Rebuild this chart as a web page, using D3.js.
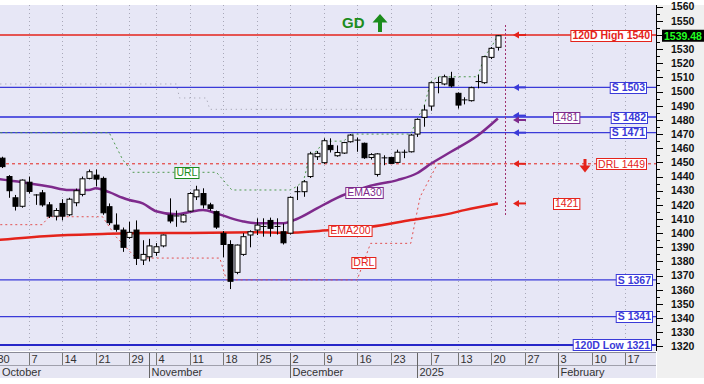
<!DOCTYPE html>
<html><head><meta charset="utf-8">
<script src="https://cdn.jsdelivr.net/npm/d3@7"></script>
<style>body{margin:0;background:#fff}svg{display:block;font-family:"Liberation Sans",Arial,sans-serif}</style>
</head><body><svg id="c" width="704" height="384"></svg>
<script>
// ---------- DATA ----------
const opens = [1453,1440,1425,1419,1436,1427,1428.5,1420,1412,1421,
 1413,1421.5,1427.4,1438.7,1441,1438.7,1418.7,1405.7,1402.2,1397,
 1402.2,1381,1383.3,1386.4,1391,1412.8,1412,1408,1415.6,1425.7,
 1428,1420,1415.2,1399.9,1392,1372.3,1385,1398.7,1402.2,1404.5,
 1409,1404.5,1401,1400,1429,1429.3,1440,1454,1449.8,1462,
 1454.7,1456.6,1464.6,1465.5,1463.5,1453.5,1441.5,1453,1453.5,1450,
 1457,1457.5,1470,1481.8,1489.8,1506.3,1505.4,1509.4,1498.8,1494,
 1493.6,1507,1506.3,1524.2,1531.3];
const highs = [1454,1441,1427,1438,1440,1427.5,1430.5,1422,1417.7,1424,
 1425,1431.5,1440,1445,1445,1440,1421,1414,1404,1408,
 1409,1395,1396,1393,1399,1424.6,1416,1413.5,1429,1433.5,
 1431.7,1421.5,1416,1401.5,1395,1392,1400,1402,1410.5,1410.5,
 1411,1410.5,1406.8,1426,1433,1437.5,1457.5,1458,1467,1467,
 1462,1464.5,1470,1467.5,1464,1456.5,1456.5,1455,1454,1459,
 1459,1470,1481,1490.5,1507,1510.5,1512,1514,1499.5,1496,
 1503.5,1511.7,1525,1531.5,1540];
const lows = [1446,1425,1416,1418,1428,1420,1418.7,1410.7,1409,1409,
 1412,1419,1426,1438,1433,1413,1405.7,1401,1386.8,1396,
 1377.5,1377.5,1380,1384,1390,1407,1404.5,1407.5,1415,1423.4,
 1417.5,1415.8,1403,1383,1360.5,1371,1384,1390,1398.7,1397.5,
 1397.5,1399,1392,1399,1423.4,1425.7,1439,1451.7,1449,1457,
 1454,1456,1464,1457.5,1452.5,1452,1440,1448,1449,1449.5,
 1453,1457,1468,1475.2,1486.5,1498.8,1504.5,1503,1488,1491,
 1493,1502.3,1505.5,1523,1529];
const closes = [1447,1430,1419,1437.5,1429.5,1427,1420,1412,1416,1412,
 1424,1430,1438.4,1443.4,1438.2,1414.4,1407.4,1402.7,1390,1400.6,
 1382.2,1385,1391,1390.4,1398.7,1408.6,1412.3,1412.8,1428,1430.5,
 1420,1417.5,1404.3,1392,1366,1391.6,1397.5,1401,1405.7,1405,
 1403.4,1405,1393.2,1425.3,1429.6,1436.3,1456,1456.4,1465.3,1459,
 1457,1464,1469.3,1466,1453.3,1455.5,1456,1453.4,1449.3,1457.2,
 1457.4,1469.3,1480.4,1487,1506.3,1506.6,1510.5,1504,1490.5,1494.3,
 1502.8,1507.2,1524.7,1530.6,1539.48];

const ema30Idx = [-1,3,7,10,13,14,16,18,19,21,23,26,28,30,32,34,36,38,42,44,47,50,53,55,59,62,64,67,71,74];
const ema30Val = [1438.5,1436,1433,1430.5,1430.5,1431.7,1429,1425,1423.4,1421,1415.5,1413.3,1415,1416.3,1414,1410.8,1408.3,1407,1407,1410,1417.5,1425,1430.5,1433.5,1437.5,1442.5,1449,1457.5,1469,1481];
const ema200Idx = [-1,7,15,19,28,38,42,49,55,61,67,69,74];
const ema200Val = [1395,1398,1399.4,1399.9,1400.2,1400.6,1400.3,1402.2,1404.5,1409.3,1414,1416.3,1421];

const urlIdx = [-1,16,18,19.5,32,34.3,43,44,45,46,47,48,51,52,61,62,63,64,65,71,72,73,74];
const urlVal = [1471,1471,1452,1443,1443,1430.5,1430.5,1433,1437,1456,1458,1465,1465,1470,1470,1481,1490,1507,1510.5,1510.5,1525,1531,1540];
const drlIdx = [-1,6,7,15,17,20,32.5,33.5,53,55,61,62.4,65,74];
const drlVal = [1406,1406,1411.6,1411.6,1397.5,1382.4,1382.4,1367,1367,1392.8,1392.8,1425.7,1449,1449];
const oldIdx = [-1,26,26.5,30.5,31,61.5];
const oldVal = [1505.4,1505.4,1495.5,1495.5,1487.5,1487.5];

const supports = [1503,1482,1471,1367,1341];
const high120 = 1540, low120 = 1321, drlLevel = 1449, lastClose = 1539.48;
const ema30Last = 1481, ema200Last = 1421;

const dayTickIdx = [-1,4,9,14,19,23,28,33,38,43,48,53,58,64,68,73,78,83,88,93];
const dayTickLbl = ["30","7","14","21","29","4","11","18","25","2","9","16","23","7","13","20","27","3","10","17"];
const monthIdx = [-1,22,43,62,83];
const monthLbl = ["October","November","December","2025","February"];
const priceTicks = d3.range(1320,1561,10);

// ---------- LAYOUT ----------
const svg = d3.select("#c");
const PR = 656, PT = 5, PB = 351;
const x = d3.scaleLinear().domain([-0.3,97.6]).range([0,656]);
const y = d3.scaleLinear().domain([1320,1560]).range([346.4,6.7]);
const FONT = '"Liberation Sans",Arial,sans-serif';
const RED="#e4231b", BLUE="#3a3ad8", PURPLE="#7e2a8c", GREEN="#1c8c1c";

svg.append("rect").attr("width",704).attr("height",384).attr("fill","#fff");
svg.append("rect").attr("x",657).attr("y",PT).attr("width",47).attr("height",373).attr("fill","#f0f0f0");
svg.append("rect").attr("x",0).attr("y",PT).attr("width",PR).attr("height",PB-PT).attr("fill","#e7e7f6");
svg.append("rect").attr("x",0).attr("y",352).attr("width",PR).attr("height",26).attr("fill","#e6e6f3");

svg.append("defs").append("clipPath").attr("id","clip").append("rect")
  .attr("x",0).attr("y",PT).attr("width",PR).attr("height",PB-PT);
const g = svg.append("g").attr("clip-path","url(#clip)");

// vertical grid
g.selectAll(".vg").data(dayTickIdx).join("line")
  .attr("x1",d=>Math.round(x(d))+0.5).attr("x2",d=>Math.round(x(d))+0.5)
  .attr("y1",PT).attr("y2",PB).attr("stroke","#a8a8b8").attr("stroke-dasharray","1,3");

// faint dotted line
const ln = d3.line().x(d=>x(d[0])).y(d=>y(d[1]));
g.append("path").attr("d",ln(oldIdx.map((d,i)=>[d,oldVal[i]])))
  .attr("fill","none").attr("stroke","#9a9aa8").attr("stroke-dasharray","1,4");

// horizontal levels
g.append("line").attr("x1",0).attr("x2",PR).attr("y1",y(high120)).attr("y2",y(high120)).attr("stroke",RED).attr("stroke-width",1.5);
supports.forEach(s=>{
  g.append("line").attr("x1",0).attr("x2",PR).attr("y1",y(s)).attr("y2",y(s))
   .attr("stroke", s===1482? "#5a5ae0":BLUE).attr("stroke-width", s===1482?2:1.2);
});
g.append("line").attr("x1",0).attr("x2",PR).attr("y1",y(low120)).attr("y2",y(low120)).attr("stroke","#2626c8").attr("stroke-width",2);
g.append("line").attr("x1",0).attr("x2",PR).attr("y1",y(drlLevel)).attr("y2",y(drlLevel)).attr("stroke",RED).attr("stroke-width",1).attr("stroke-dasharray","3,3");

// URL & DRL step lines
g.append("path").attr("d",ln(urlIdx.map((d,i)=>[d,urlVal[i]])))
  .attr("fill","none").attr("stroke","#4f9a4f").attr("stroke-width",1).attr("stroke-dasharray","2,3");
g.append("path").attr("d",ln(drlIdx.map((d,i)=>[d,drlVal[i]])))
  .attr("fill","none").attr("stroke","#e25050").attr("stroke-width",1).attr("stroke-dasharray","2,3");

// EMAs
const cl = d3.line().x(d=>x(d[0])).y(d=>y(d[1])).curve(d3.curveMonotoneX);
g.append("path").attr("d",cl(ema200Idx.map((d,i)=>[d,ema200Val[i]])))
  .attr("fill","none").attr("stroke",RED).attr("stroke-width",2.5);
g.append("path").attr("d",cl(ema30Idx.map((d,i)=>[d,ema30Val[i]])))
  .attr("fill","none").attr("stroke",PURPLE).attr("stroke-width",2.5);

// candles
const cg = g.append("g");
opens.forEach((o,i)=>{
  const cx = Math.round(x(i))+0.5, c = closes[i];
  cg.append("line").attr("x1",cx).attr("x2",cx).attr("y1",y(highs[i])).attr("y2",y(lows[i])).attr("stroke","#000");
  const top = y(Math.max(o,c)), bot = y(Math.min(o,c));
  if (bot-top < 1.2) {
    cg.append("line").attr("x1",cx-3).attr("x2",cx+3).attr("y1",(top+bot)/2).attr("y2",(top+bot)/2).attr("stroke","#000");
  } else {
    cg.append("rect").attr("x",cx-2.5).attr("y",top).attr("width",5).attr("height",bot-top)
      .attr("fill", c>=o? "#fff":"#000").attr("stroke","#000").attr("stroke-width",1);
  }
});

// vertical marker
g.append("line").attr("x1",Math.round(x(75))+0.5).attr("x2",Math.round(x(75))+0.5).attr("y1",25).attr("y2",215)
  .attr("stroke","#a0306e").attr("stroke-dasharray","2,2");

// left arrows
function leftArrow(yy,col){
  const a = svg.append("g");
  a.append("line").attr("x1",518).attr("x2",526).attr("y1",yy).attr("y2",yy).attr("stroke",col).attr("stroke-width",2);
  a.append("path").attr("d",`M513,${yy} L519,${yy-3.5} L519,${yy+3.5} Z`).attr("fill",col);
}
leftArrow(y(high120),RED); leftArrow(y(1503),BLUE); leftArrow(y(1482)-1.5,BLUE); leftArrow(y(ema30Last)+1.5,PURPLE);
leftArrow(y(1471),BLUE); leftArrow(y(drlLevel),RED); leftArrow(y(ema200Last),RED);

// label boxes
function box(text, anchorX, cy, col, bold, align){
  const t = svg.append("text").attr("y",cy).attr("dy","0.36em").attr("font-size",10.5).attr("font-family",FONT)
    .attr("font-weight",bold?"bold":"normal").attr("fill",col).text(text);
  const w = t.node().getComputedTextLength();
  let left = align==="right" ? anchorX - w - 4 : (align==="center" ? anchorX - (w+4)/2 : anchorX);
  t.attr("x",left+2);
  svg.insert("rect", function(){return t.node();}).attr("x",left+0.5).attr("y",Math.round(cy-5.5)+0.5)
    .attr("width",w+3).attr("height",11).attr("fill","#fff").attr("stroke",col).attr("stroke-width",1);
}
box("120D High 1540",652,y(high120),RED,true,"right");
box("S 1503",647,y(1503),BLUE,true,"right");
box("S 1482",648,y(1482),BLUE,true,"right");
box(String(ema30Last),553,y(1482),PURPLE,false,"left");
box("S 1471",647,y(1471),BLUE,true,"right");
box("DRL 1449",647,y(drlLevel),RED,false,"right");
box(String(ema200Last),553,y(ema200Last),RED,false,"left");
box("S 1367",653,y(1367),BLUE,true,"right");
box("S 1341",653,y(1341),BLUE,true,"right");
box("120D Low 1321",652,y(low120),BLUE,true,"right");
box("URL",x(27.6),y(1443),GREEN,false,"center");
box("EMA30",x(54.1),y(1429),PURPLE,false,"center");
box("EMA200",x(52),y(1402.2),RED,false,"center");
box("DRL",x(54),y(1379.6),RED,false,"center");

// DRL down arrow
svg.append("rect").attr("x",583.5).attr("y",159).attr("width",3).attr("height",7).attr("fill",RED);
svg.append("path").attr("d","M579.5,165.5 L590.5,165.5 L585,172.5 Z").attr("fill",RED);

// GD
svg.append("text").attr("x",342).attr("y",28).attr("font-size",15).attr("font-weight","bold").attr("font-family",FONT).attr("fill",GREEN).text("GD");
svg.append("path").attr("d","M380,14 L387.5,22.5 L382,22.5 L382,32 L378,32 L378,22.5 L372.5,22.5 Z").attr("fill",GREEN);

// right price axis
svg.append("line").attr("x1",656.5).attr("x2",656.5).attr("y1",PT).attr("y2",PB).attr("stroke","#000");
d3.range(1320,1561,5).forEach(v=>{
  const yy = Math.round(y(v))+0.5, major = v%10===0;
  svg.append("line").attr("x1",657).attr("x2",major?663:660).attr("y1",yy).attr("y2",yy).attr("stroke","#000");
});
svg.selectAll(".pl").data(priceTicks.filter(d=>Math.abs(y(d)-y(lastClose))>8)).join("text").attr("x",671).attr("y",d=>y(d)).attr("dy","0.36em")
  .attr("font-size",10.5).attr("font-weight","bold").attr("font-family",FONT).attr("fill","#111").text(d=>d);
svg.append("rect").attr("x",662).attr("y",y(lastClose)-6).attr("width",42).attr("height",12).attr("fill","#000");
svg.append("text").attr("x",664).attr("y",y(lastClose)).attr("dy","0.36em").attr("font-size",10.5).attr("font-weight","bold")
  .attr("font-family",FONT).attr("fill","#22ff22").text(lastClose.toFixed(2));

// bottom axis
svg.append("line").attr("x1",0).attr("x2",PR).attr("y1",352.5).attr("y2",352.5).attr("stroke","#8a8a96");
svg.append("line").attr("x1",0).attr("x2",PR).attr("y1",365.5).attr("y2",365.5).attr("stroke","#a0a0ac");
const ax = svg.append("g");
dayTickIdx.forEach((d,i)=>{
  const xx = Math.round(x(d))+0.5;
  ax.append("line").attr("x1",xx).attr("x2",xx).attr("y1",353).attr("y2",365).attr("stroke","#777");
  ax.append("text").attr("x",xx+2).attr("y",363).attr("font-size",11).attr("font-family",FONT).attr("fill","#333").text(dayTickLbl[i]);
});
monthIdx.forEach((d,i)=>{
  const xx = Math.round(x(d))+0.5;
  ax.append("line").attr("x1",xx).attr("x2",xx).attr("y1",353).attr("y2",378).attr("stroke","#666");
  ax.append("text").attr("x",Math.max(xx+2,2)).attr("y",376).attr("font-size",11).attr("font-family",FONT).attr("fill","#333").text(monthLbl[i]);
});
</script></body></html>
